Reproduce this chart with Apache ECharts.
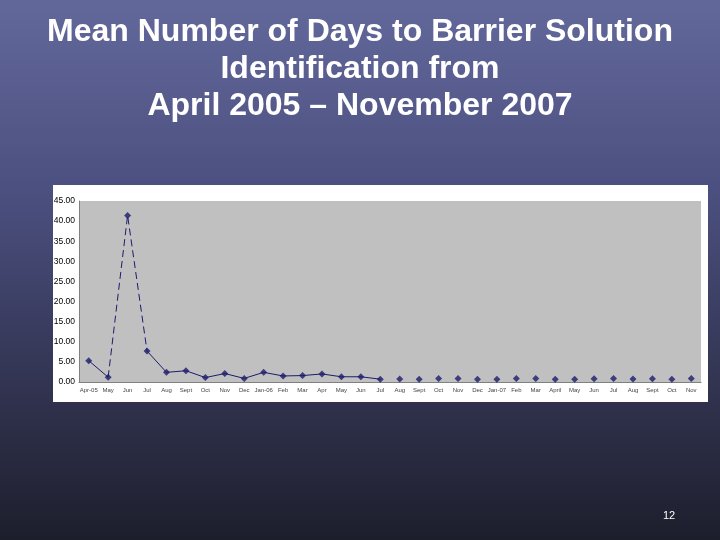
<!DOCTYPE html>
<html>
<head>
<meta charset="utf-8">
<script src="https://cdn.jsdelivr.net/npm/echarts@6/dist/echarts.min.js"></script>
<style>
  html, body { margin: 0; padding: 0; }
  #chart { width: 720px; height: 540px; }
</style>
</head>
<body>
<div id="chart"></div>
<script>
"use strict";

var months = ['Apr-05', 'May', 'Jun', 'Jul', 'Aug', 'Sept', 'Oct', 'Nov', 'Dec', 'Jan-06',
  'Feb', 'Mar', 'Apr', 'May', 'Jun', 'Jul', 'Aug', 'Sept', 'Oct', 'Nov', 'Dec', 'Jan-07',
  'Feb', 'Mar', 'April', 'May', 'Jun', 'Jul', 'Aug', 'Sept', 'Oct', 'Nov'];

var meanDays = [5.3, 1.2, 41.4, 7.7, 2.4, 2.8, 1.1, 2.1, 0.9, 2.4,
  1.5, 1.6, 2.0, 1.3, 1.3, 0.7, 0.75, 0.7, 0.9, 0.9, 0.7, 0.7,
  0.9, 0.9, 0.7, 0.7, 0.8, 0.9, 0.75, 0.8, 0.7, 0.9];

// the line only joins points up to Jul 2006, the spike part is dashed
var lastJoined = 15;
var dashedFrom = 1;
var dashedTo = 3;

var solidPart = meanDays.map(function(v, i) {
  return (i <= lastJoined && i !== 2) ? v : null;
});
var dashedPart = meanDays.map(function(v, i) {
  return (i >= dashedFrom && i <= dashedTo) ? v : null;
});

var navy = '#1c1c6c';
var font = 'Liberation Sans, Arial, sans-serif';

var chart = echarts.init(document.getElementById('chart'));
chart.setOption({
  animation: false,
  backgroundColor: {
    type: 'linear', x: 0, y: 0, x2: 0, y2: 1,
    colorStops: [
      { offset: 0, color: '#63689b' },
      { offset: 0.35, color: '#4c5080' },
      { offset: 1, color: '#1d1e2c' }
    ]
  },
  title: {
    text: 'Mean Number of Days to Barrier Solution\nIdentification from\nApril 2005 \u2013 November 2007',
    left: 'center',
    top: 9,
    textStyle: {
      color: '#ffffff',
      fontFamily: font,
      fontWeight: 'bold',
      fontSize: 32,
      lineHeight: 37,
      textShadowColor: '#23253d',
      textShadowOffsetX: 2,
      textShadowOffsetY: 2,
      textShadowBlur: 0
    }
  },
  graphic: [
    {
      type: 'rect', z: -10,
      shape: { x: 53, y: 185, width: 655, height: 217 },
      style: { fill: '#ffffff' }
    },
    {
      type: 'text', left: 663, top: 510,
      style: { text: '12', fill: '#ffffff', fontSize: 11, fontFamily: font }
    }
  ],
  grid: {
    left: 79,
    right: 19,
    top: 201,
    bottom: 158,
    show: true,
    backgroundColor: '#c0c0c0',
    borderWidth: 0
  },
  xAxis: {
    type: 'category',
    data: months,
    boundaryGap: true,
    axisLine: { lineStyle: { color: '#808080', width: 1 } },
    axisTick: { show: false },
    axisLabel: {
      interval: 0,
      fontSize: 6,
      color: '#444444',
      margin: 5,
      fontFamily: font
    }
  },
  yAxis: {
    type: 'value',
    min: 0,
    max: 45,
    interval: 5,
    axisLine: { show: true, lineStyle: { color: '#808080', width: 1 } },
    axisTick: { show: false },
    splitLine: { show: false },
    axisLabel: {
      fontSize: 8.5,
      color: '#000000',
      margin: 4,
      fontFamily: font,
      formatter: function(v) { return v.toFixed(2); }
    }
  },
  series: [
    {
      type: 'line',
      data: solidPart,
      connectNulls: false,
      symbol: 'none',
      lineStyle: { color: navy, width: 1 }
    },
    {
      type: 'line',
      data: dashedPart,
      connectNulls: false,
      symbol: 'none',
      lineStyle: { color: navy, width: 1, type: [7, 4] }
    },
    {
      type: 'scatter',
      data: meanDays,
      symbol: 'diamond',
      symbolSize: 7,
      itemStyle: { color: navy }
    }
  ]
});
</script>
</body>
</html>
